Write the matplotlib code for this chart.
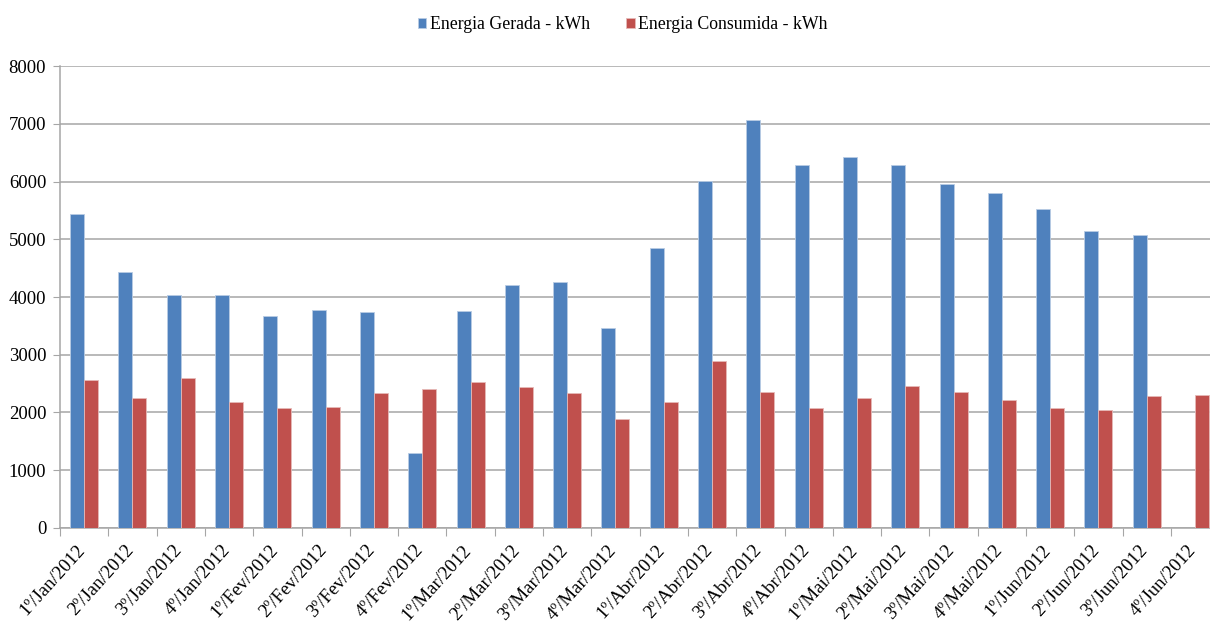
import matplotlib
matplotlib.use("Agg")
import matplotlib.pyplot as plt
import matplotlib.transforms as mtrans
import numpy as np

# weekly periods, Jan-Jun 2012
periods = [
    "1º/Jan/2012", "2º/Jan/2012", "3º/Jan/2012", "4º/Jan/2012",
    "1º/Fev/2012", "2º/Fev/2012", "3º/Fev/2012", "4º/Fev/2012",
    "1º/Mar/2012", "2º/Mar/2012", "3º/Mar/2012", "4º/Mar/2012",
    "1º/Abr/2012", "2º/Abr/2012", "3º/Abr/2012", "4º/Abr/2012",
    "1º/Mai/2012", "2º/Mai/2012", "3º/Mai/2012", "4º/Mai/2012",
    "1º/Jun/2012", "2º/Jun/2012", "3º/Jun/2012", "4º/Jun/2012",
]
gerada = [5440, 4430, 4040, 4040, 3670, 3780, 3745, 1305,
          3760, 4205, 4260, 3465, 4855, 6010, 7065, 6295,
          6430, 6295, 5965, 5800, 5520, 5150, 5080, None]
consumida = [2560, 2245, 2600, 2190, 2080, 2100, 2340, 2410,
             2525, 2450, 2340, 1895, 2190, 2895, 2360, 2080,
             2250, 2465, 2360, 2210, 2080, 2045, 2290, 2305]

plt.rcParams['font.family'] = ['Liberation Serif', 'DejaVu Serif']

blue = '#4F81BD'
red = '#C0504D'

fig = plt.figure(figsize=(12.1, 6.3), dpi=100)
# right end of the axis runs a little past the picture edge, as in the original
ax = fig.add_axes([0.0496, 0.162, 0.958, 0.733])

x = np.arange(len(periods))
g = np.array([np.nan if v is None else v for v in gerada], dtype=float)
c = np.array(consumida, dtype=float)
w = 0.29
ax.bar(x - w / 2, g, width=w, color=blue, edgecolor='#b8cce4', linewidth=0.6,
       label='Energia Gerada - kWh', zorder=3)
ax.bar(x + w / 2, c, width=w, color=red, edgecolor='#e6b9b8', linewidth=0.6,
       label='Energia Consumida - kWh', zorder=3)

ax.set_xlim(-0.5, len(periods) - 0.5)
ax.set_ylim(0, 8000)
ax.set_yticks(np.arange(0, 8001, 1000))
ax.yaxis.grid(True, color='#a6a6a6', linewidth=1.1, zorder=0)
ax.set_axisbelow(True)

# ticks at category boundaries, labels at centres
ax.set_xticks(np.arange(-0.5, len(periods), 1.0))
ax.set_xticklabels([])
ax.set_xticks(x, minor=True)
ax.set_xticklabels(periods, minor=True, rotation=48, ha='right', va='center',
                   rotation_mode='anchor', fontsize=13.5)
ax.tick_params(axis='x', which='minor', length=0, pad=14)
ax.tick_params(axis='x', which='major', length=6, color='#a6a6a6')
ax.tick_params(axis='y', length=5, color='#a6a6a6', labelsize=13.5, pad=5)

shift = mtrans.ScaledTranslation(-2 / 100, 0, fig.dpi_scale_trans)
for lbl in ax.get_xticklabels(minor=True):
    lbl.set_transform(lbl.get_transform() + shift)

for side in ['top', 'right']:
    ax.spines[side].set_visible(False)
for side in ['left', 'bottom']:
    ax.spines[side].set_color('#a6a6a6')
    ax.spines[side].set_linewidth(1.1)

fig.legend(loc='upper center', bbox_to_anchor=(0.5145, 1.0), ncol=2,
           frameon=False, fontsize=12.8, handlelength=0.5, handleheight=0.5,
           handletextpad=0.2, columnspacing=2.0)

fig.savefig('out.png', dpi=100)
